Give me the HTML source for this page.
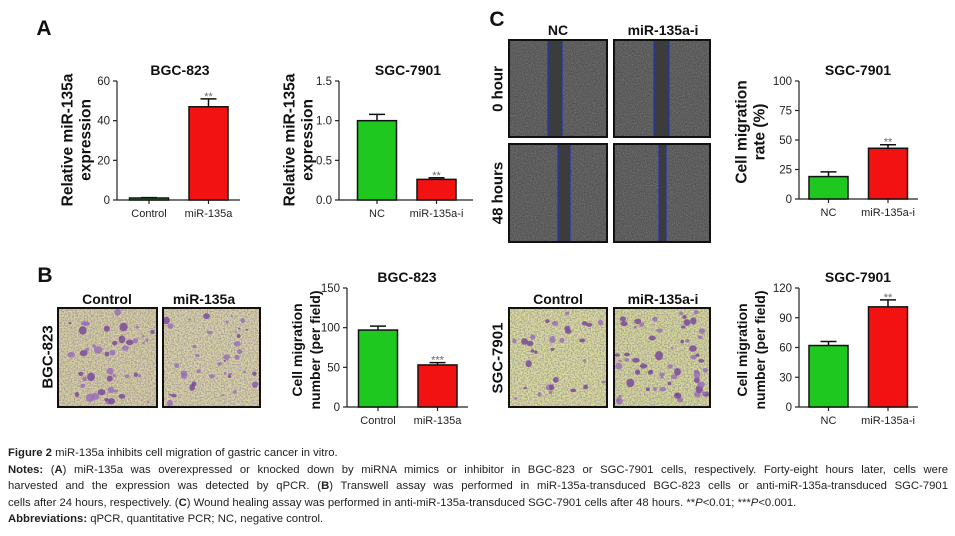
<!DOCTYPE html>
<html><head><meta charset="utf-8">
<style>
body{margin:0;background:#fff;width:955px;height:536px;overflow:hidden;position:relative;font-family:"Liberation Sans",sans-serif}
#cap{position:absolute;left:8px;top:445px;width:940px;font-size:11.3px;color:#222;line-height:16.5px}
#cap div{white-space:nowrap}
#cap .j{text-align:justify;text-align-last:justify;white-space:normal}
</style></head><body>
<svg id="fig" width="955" height="440" style="position:absolute;left:0;top:0" font-family="Liberation Sans, sans-serif">
<defs>
<filter id="noise" x="0" y="0" width="100%" height="100%"><feTurbulence type="fractalNoise" baseFrequency="0.9" numOctaves="2" seed="3"/><feColorMatrix type="matrix" values="0 0 0 0 0.6  0 0 0 0 0.6  0 0 0 0 0.6  0 0 0 1.2 -0.35"/></filter>
<filter id="speck" x="0" y="0" width="100%" height="100%"><feTurbulence type="fractalNoise" baseFrequency="0.7" numOctaves="1" seed="7"/><feColorMatrix type="matrix" values="0 0 0 0 0.25  0 0 0 0 0.2  0 0 0 0 0.3  0 0 0 -3 1.9"/></filter>
</defs>
<g id="labels"></g>
<g id="images"></g>
<g id="charts"></g>
</svg>
<div id="cap">
<div><b>Figure 2</b> miR-135a inhibits cell migration of gastric cancer in vitro.</div>
<div class="j"><b>Notes:</b> (<b>A</b>) miR-135a was overexpressed or knocked down by miRNA mimics or inhibitor in BGC-823 or SGC-7901 cells, respectively. Forty-eight hours later, cells were</div>
<div class="j">harvested and the expression was detected by qPCR. (<b>B</b>) Transwell assay was performed in miR-135a-transduced BGC-823 cells or anti-miR-135a-transduced SGC-7901</div>
<div>cells after 24 hours, respectively. (<b>C</b>) Wound healing assay was performed in anti-miR-135a-transduced SGC-7901 cells after 48 hours. **<i>P</i>&lt;0.01; ***<i>P</i>&lt;0.001.</div>
<div><b>Abbreviations:</b> qPCR, quantitative PCR; NC, negative control.</div>
</div>
<script>
// ---- chart data ----
const catsA1 = ["Control", "miR-135a"];
const valsA1 = [1, 47];
const errsA1 = [1.2, 51];
const starsA1 = ["", "**"];
const ticksA1 = [0, 20, 40, 60];
const tickLabelsA1 = ["0", "20", "40", "60"];

const catsA2 = ["NC", "miR-135a-i"];
const valsA2 = [1.0, 0.26];
const errsA2 = [1.08, 0.28];
const starsA2 = ["", "**"];
const ticksA2 = [0, 0.5, 1.0, 1.5];
const tickLabelsA2 = ["0.0", "0.5", "1.0", "1.5"];

const catsC = ["NC", "miR-135a-i"];
const valsC = [19, 43];
const errsC = [23, 46];
const starsC = ["", "**"];
const ticksC = [0, 25, 50, 75, 100];
const tickLabelsC = ["0", "25", "50", "75", "100"];

const catsB1 = ["Control", "miR-135a"];
const valsB1 = [97, 53];
const errsB1 = [102, 56];
const starsB1 = ["", "***"];
const ticksB1 = [0, 50, 100, 150];
const tickLabelsB1 = ["0", "50", "100", "150"];

const catsB2 = ["NC", "miR-135a-i"];
const valsB2 = [62, 101];
const errsB2 = [66, 108];
const starsB2 = ["", "**"];
const ticksB2 = [0, 30, 60, 90, 120];
const tickLabelsB2 = ["0", "30", "60", "90", "120"];

const NS = "http://www.w3.org/2000/svg";
function mk(parent, tag, attrs, text) {
  const e = document.createElementNS(NS, tag);
  for (const k in attrs) e.setAttribute(k, attrs[k]);
  if (text !== undefined) e.textContent = text;
  parent.appendChild(e);
  return e;
}
const colors = ["#1ec81e", "#f21212"];

function drawChart(id, L, cats, vals, errs, stars, ticks, tickLabels) {
  const g = mk(document.getElementById("charts"), "g", {});
  
  
  const ymax = ticks[ticks.length - 1];
  const y = v => L.y0 - (v / ymax) * (L.y0 - L.ytop);
  const xc = i => L.ax + L.off + i * 59.5;
  const t = mk(g, "text", {x: L.tx, y: L.ty, "text-anchor": "middle", "font-size": 14, "font-weight": "bold", fill: "#111"}, L.title);
  
  
  L.ylab.forEach((s, k) => {
    const yl = mk(g, "text", {x: 0, y: 0, transform: `translate(${L.ylx[k]},${L.lcy}) rotate(-90)`, "text-anchor": "middle", "dominant-baseline": "central", "font-size": L.fs || 15.5, "font-weight": "bold", fill: "#111"}, s);
    
    
  });
  const ya = mk(g, "line", {x1: L.ax, x2: L.ax, y1: L.ytop, y2: L.y0, stroke: "#222", "stroke-width": 1.2});
  
  
  const xa = mk(g, "line", {x1: L.ax, x2: L.xend, y1: L.y0, y2: L.y0, stroke: "#222", "stroke-width": 1.2});
  
  
  ticks.forEach((v, i) => {
    mk(g, "line", {x1: L.ax - 4, x2: L.ax, y1: y(v), y2: y(v), stroke: "#222", "stroke-width": 1.2});
    const tl = mk(g, "text", {x: L.ax - 7, y: y(v) + 4, "text-anchor": "end", "font-size": 11.5, fill: "#222"}, tickLabels[i]);
    
    
  });
  cats.forEach((c, i) => {
    const cx = xc(i);
    mk(g, "line", {x1: cx, x2: cx, y1: L.y0, y2: L.y0 + 4, stroke: "#222", "stroke-width": 1.2});
    const cl = mk(g, "text", {x: cx, y: L.y0 + 17, "text-anchor": "middle", "font-size": 11, fill: "#222"}, c);
    
    
    const eb = mk(g, "path", {d: `M${cx},${y(vals[i])}V${y(errs[i])}M${cx - 8},${y(errs[i])}H${cx + 8}`, stroke: "#111", "stroke-width": 1.5, fill: "none"});
    
    
    const b = mk(g, "rect", {x: cx - 19.5, y: y(vals[i]), width: 39, height: L.y0 - y(vals[i]), fill: colors[i], stroke: "#111", "stroke-width": 1.5});
    
    
    if (stars[i]) {
      const st = mk(g, "text", {x: cx, y: y(errs[i]) + 1, "text-anchor": "middle", "font-size": 11, fill: "#666"}, stars[i]);
      
      
    }
  });
}

drawChart("chart-a-bgc823", {ax: 117, y0: 200, ytop: 81, xend: 240, off: 32, title: "BGC-823", tx: 180, ty: 75, ylab: ["Relative miR-135a", "expression"], ylx: [68, 86], lcy: 140}, catsA1, valsA1, errsA1, starsA1, ticksA1, tickLabelsA1);
drawChart("chart-a-sgc7901", {ax: 339, y0: 200, ytop: 81, xend: 473, off: 38, title: "SGC-7901", tx: 408, ty: 75, ylab: ["Relative miR-135a", "expression"], ylx: [290, 308], lcy: 140}, catsA2, valsA2, errsA2, starsA2, ticksA2, tickLabelsA2);
drawChart("chart-c-migration-rate", {ax: 799, y0: 199, ytop: 81, xend: 918, off: 29.5, title: "SGC-7901", tx: 858, ty: 75, ylab: ["Cell migration", "rate (%)"], ylx: [742, 760], lcy: 132}, catsC, valsC, errsC, starsC, ticksC, tickLabelsC);
drawChart("chart-b-bgc823", {ax: 347, y0: 407, ytop: 288, xend: 468, off: 31, title: "BGC-823", tx: 407, ty: 282, ylab: ["Cell migration", "number (per field)"], ylx: [297, 315], lcy: 350, fs: 14}, catsB1, valsB1, errsB1, starsB1, ticksB1, tickLabelsB1);
drawChart("chart-b-sgc7901", {ax: 799, y0: 407, ytop: 288, xend: 918, off: 29.5, title: "SGC-7901", tx: 858, ty: 282, ylab: ["Cell migration", "number (per field)"], ylx: [742, 760], lcy: 350, fs: 14}, catsB2, valsB2, errsB2, starsB2, ticksB2, tickLabelsB2);

// ---- labels ----
const lab = document.getElementById("labels");
function txt(s, x, y, size, name, rot) {
  const a = {x: rot ? 0 : x, y: rot ? 0 : y, "text-anchor": "middle", "font-size": size, "font-weight": "bold", fill: "#111"};
  if (rot) { a.transform = `translate(${x},${y}) rotate(-90)`; a["dominant-baseline"] = "central"; }
  const e = mk(lab, "text", a, s);
  
  
}
txt("A", 44, 35, 21, "panel-label-a");
txt("B", 45, 282, 21, "panel-label-b");
txt("C", 497, 26, 21, "panel-label-c");
txt("NC", 558, 35, 14, "column-header-nc");
txt("miR-135a-i", 663, 35, 14, "column-header-mir135a-i");
txt("0 hour", 498, 89, 15, "row-label-0-hour", true);
txt("48 hours", 498, 193, 15, "row-label-48-hours", true);
txt("Control", 107, 304, 14, "column-header-control");
txt("miR-135a", 204, 304, 14, "column-header-mir135a");
txt("Control", 558, 304, 14, "column-header-control-sgc");
txt("miR-135a-i", 663, 304, 14, "column-header-mir135a-i-sgc");
txt("BGC-823", 48, 357, 15, "row-label-bgc823", true);
txt("SGC-7901", 498, 358, 15, "row-label-sgc7901", true);

// ---- images ----
const im = document.getElementById("images");
let seed = 12345;
function rnd() { seed = (seed * 1103515245 + 12345) % 2147483648; return seed / 2147483648; }
function wound(x, y, w, h, l1, l2, name) {
  const g = mk(im, "g", {});
  
  
  mk(g, "rect", {x, y, width: w, height: h, fill: "#505050"});
  mk(g, "rect", {x, y, width: w, height: h, filter: "url(#noise)", opacity: 0.45});
  mk(g, "rect", {x: l1, y, width: l2 - l1, height: h, fill: "#3c3c3c"});
  mk(g, "line", {x1: l1, x2: l1, y1: y, y2: y + h, stroke: "#2233bb", "stroke-width": 1.2});
  mk(g, "line", {x1: l2, x2: l2, y1: y, y2: y + h, stroke: "#2233bb", "stroke-width": 1.2});
  mk(g, "rect", {x, y, width: w, height: h, fill: "none", stroke: "#111", "stroke-width": 2});
}
wound(509, 40, 98, 97, 548, 562, "wound-nc-0h");
wound(614, 40, 96, 97, 654, 669, "wound-mir135a-i-0h");
wound(509, 144, 98, 98, 558, 570, "wound-nc-48h");
wound(614, 144, 96, 98, 659, 666, "wound-mir135a-i-48h");

function transwell(x, y, w, h, bg, n, rmin, rmax, name) {
  const g = mk(im, "g", {});
  
  
  mk(g, "rect", {x, y, width: w, height: h, fill: bg});
  mk(g, "rect", {x, y, width: w, height: h, filter: "url(#speck)", opacity: 0.6});
  for (let i = 0; i < n; i++) {
    const cx = x + 3 + rnd() * (w - 6), cy = y + 3 + rnd() * (h - 6);
    const r = rmin + rnd() * (rmax - rmin);
    mk(g, "ellipse", {cx, cy, rx: r, ry: r * (0.6 + rnd() * 0.6), fill: rnd() > 0.5 ? "#7a4a9a" : "#9a70b8", opacity: 0.85});
  }
  mk(g, "rect", {x, y, width: w, height: h, fill: "none", stroke: "#111", "stroke-width": 2});
}
transwell(58, 308, 99, 99, "#d9d2a2", 45, 1.2, 4.5, "transwell-bgc823-control");
transwell(163, 308, 97, 99, "#dbd5a6", 40, 1, 3.5, "transwell-bgc823-mir135a");
transwell(509, 308, 98, 99, "#dcdf9c", 30, 1.5, 3.5, "transwell-sgc7901-control");
transwell(614, 308, 96, 99, "#d8dc98", 60, 1.5, 4, "transwell-sgc7901-mir135a-i");
</script>
</body></html>
